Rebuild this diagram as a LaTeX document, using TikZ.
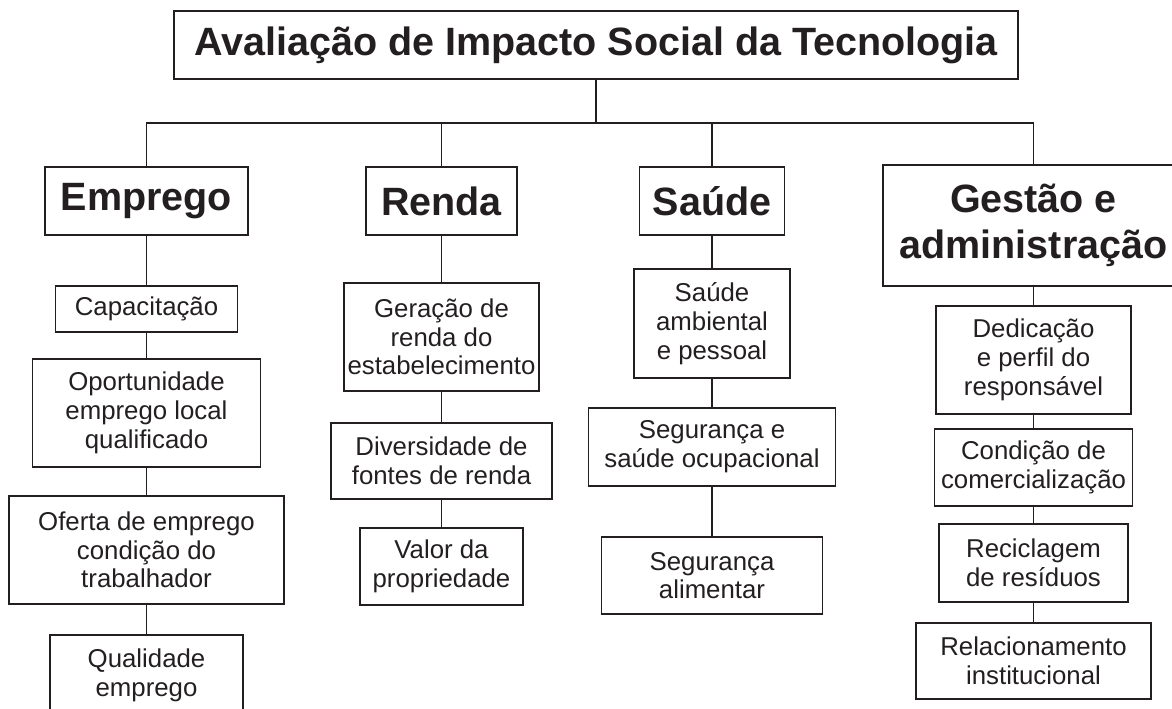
\documentclass[tikz,border=0pt]{standalone}
\usepackage{fontspec}
\setmainfont{Liberation Sans}
\definecolor{ink}{HTML}{231F20}

\begin{document}
\begin{tikzpicture}[
        x=1pt, y=-1pt,
        titlebox/.style={rectangle, draw=ink, line width=1.2pt, text=ink, inner sep=0pt, align=center,
                         font=\bfseries\fontsize{39.5}{46}\selectfont},
        headbox/.style={titlebox},
        itembox/.style={rectangle, draw=ink, line width=1.2pt, text=ink, inner sep=0pt, align=center,
                        font=\fontsize{25.8}{28.7}\selectfont},
        link/.style={draw=ink, line width=1.2pt},
        ]
        \useasboundingbox (0,0) rectangle (1172,709);

        % Title
        \node[titlebox, minimum width=844pt, minimum height=68pt] (title) at (596,45) {Avaliação de Impacto Social da Tecnologia};
        \coordinate (bus) at (596,123);

        % Main groups
        \node[headbox, minimum width=203pt, minimum height=68pt] (emp) at (146.5,201) {Emprego};
        \node[headbox, minimum width=151pt, minimum height=68pt] (ren) at (441.5,201) {Renda};
        \node[headbox, minimum width=145pt, minimum height=68pt] (sau) at (712,201) {Saúde};
        \node[headbox, minimum width=301pt, minimum height=121pt] (ges) at (1033.5,225.5) {Gestão e\\administração};

        % Emprego
        \node[itembox, minimum width=182pt, minimum height=46pt] (cap) at (146.5,309) {Capacitação};
        \node[itembox, minimum width=228pt, minimum height=108pt] (opo) at (146.5,413) {Oportunidade\\emprego local\\qualificado};
        \node[itembox, minimum width=275pt, minimum height=108pt] (ofe) at (146.5,550) {Oferta de emprego\\condição do\\trabalhador};
        \node[itembox, minimum width=193pt, minimum height=80pt] (qua) at (146.5,675) {Qualidade\\emprego};

        % Renda
        \node[itembox, minimum width=195pt, minimum height=108pt] (gen) at (441.5,337) {Geração de\\renda do\\estabelecimento};
        \node[itembox, minimum width=221pt, minimum height=76pt] (div) at (441.5,461) {Diversidade de\\fontes de renda};
        \node[itembox, minimum width=163pt, minimum height=77pt] (val) at (441.5,566.5) {Valor da\\propriedade};

        % Saude
        \node[itembox, minimum width=156pt, minimum height=109pt] (amb) at (712,323.5) {Saúde\\ambiental\\e pessoal};
        \node[itembox, minimum width=247pt, minimum height=78pt] (seg) at (712,447) {Segurança e\\saúde ocupacional};
        \node[itembox, minimum width=221pt, minimum height=77pt] (ali) at (712,575.5) {Segurança\\alimentar};

        % Gestao
        \node[itembox, minimum width=195pt, minimum height=108pt] (ded) at (1033.5,360) {Dedicação\\e perfil do\\responsável};
        \node[itembox, minimum width=198pt, minimum height=77pt] (com) at (1033.5,467.5) {Condição de\\comercialização};
        \node[itembox, minimum width=189pt, minimum height=78pt] (rec) at (1033.5,563) {Reciclagem\\de resíduos};
        \node[itembox, minimum width=235pt, minimum height=76pt] (rel) at (1033.5,661) {Relacionamento\\institucional};

        % Title to groups
        \draw[link] (title.south) -- (bus);
        \draw[link] (emp.north) -- (emp.north |- bus) -- (ges.north |- bus) -- (ges.north);
        \draw[link] (ren.north) -- (ren.north |- bus);
        \draw[link] (sau.north) -- (sau.north |- bus);

        % Columns
        \draw[link] (emp) -- (cap) -- (opo) -- (ofe) -- (qua);
        \draw[link] (ren) -- (gen) -- (div) -- (val);
        \draw[link] (sau) -- (amb) -- (seg) -- (ali);
        \draw[link] (ges) -- (ded) -- (com) -- (rec) -- (rel);

    \end{tikzpicture}
\end{document}
